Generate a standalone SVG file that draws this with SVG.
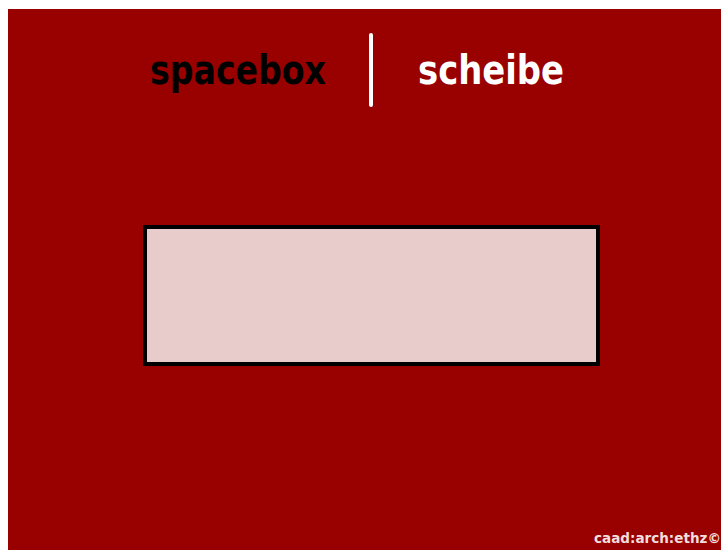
<svg xmlns="http://www.w3.org/2000/svg" width="721" height="550" viewBox="0 0 721 550">
<style>
.t{font-family:"DejaVu Sans Condensed","Liberation Sans",sans-serif;font-weight:bold}
</style>
<rect x="0" y="0" width="721" height="550" fill="#ffffff"/>
<rect x="8" y="9" width="713" height="541" fill="#990000"/>
<g id="title">
<text class="t" x="150" y="84" font-size="40" fill="#000000" textLength="176" lengthAdjust="spacingAndGlyphs">spacebox</text>
<line x1="371" y1="35" x2="371" y2="105" stroke="#ffffff" stroke-width="4" stroke-linecap="round"/>
<text class="t" x="418" y="84" font-size="40" fill="#ffffff" textLength="146" lengthAdjust="spacingAndGlyphs">scheibe</text>
</g>
<g id="box">
<rect x="145" y="227" width="453" height="137" fill="#E8CCCC" stroke="#000000" stroke-width="4"/>
</g>
<text class="t" x="594" y="543" font-size="14" fill="#f0dede" textLength="127" lengthAdjust="spacingAndGlyphs">caad:arch:ethz©</text>
</svg>
